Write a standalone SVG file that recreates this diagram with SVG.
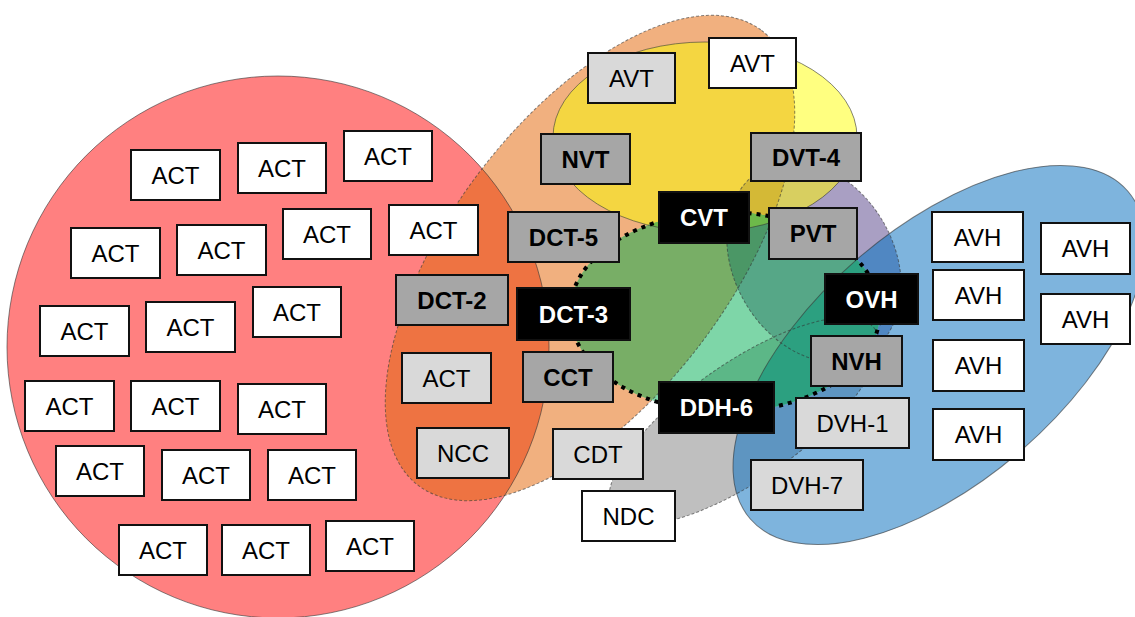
<svg xmlns="http://www.w3.org/2000/svg" xmlns:xlink="http://www.w3.org/1999/xlink" width="1135" height="617" viewBox="0 0 1135 617">
<style>
  .box{stroke:#111;stroke-width:2}
  .w{fill:#fff}
  .l{fill:#d9d9d9}
  .m{fill:#a6a6a6}
  .k{fill:#000}
  text{font-family:"Liberation Sans",Arial,sans-serif;font-size:24px;text-anchor:middle;fill:#000}
  .b{font-weight:bold}
  .wt{fill:#fff}
  .edge{fill:none;stroke:#333;stroke-opacity:0.6;stroke-width:1}
  .dash{stroke-dasharray:3 2}
</style>
<defs>
  <circle id="sRed" cx="278" cy="347" r="271"/>
  <ellipse id="sPeach" cx="590" cy="258" rx="285" ry="140" transform="rotate(-53 590 258)"/>
  <ellipse id="sYellow" cx="705" cy="137" rx="152" ry="95"/>
  <ellipse id="sLav" cx="814" cy="262" rx="106" ry="80" transform="rotate(60 814 262)"/>
  <ellipse id="sBlue" cx="939" cy="355" rx="250" ry="126" transform="rotate(-41 939 355)"/>
  <ellipse id="sGray" cx="744" cy="421" rx="160" ry="58" transform="rotate(-35 744 421)"/>
  <ellipse id="sGreen" cx="725" cy="312" rx="155" ry="100"/>
  <clipPath id="cRed"><circle cx="278" cy="347" r="271"/></clipPath>
  <clipPath id="cPeach"><ellipse cx="590" cy="258" rx="285" ry="140" transform="rotate(-53 590 258)"/></clipPath>
  <clipPath id="cYellow"><ellipse cx="705" cy="137" rx="152" ry="95"/></clipPath>
  <clipPath id="cLav"><ellipse cx="814" cy="262" rx="106" ry="80" transform="rotate(60 814 262)"/></clipPath>
  <clipPath id="cBlue"><ellipse cx="939" cy="355" rx="250" ry="126" transform="rotate(-41 939 355)"/></clipPath>
  <clipPath id="cGray"><ellipse cx="744" cy="421" rx="160" ry="58" transform="rotate(-35 744 421)"/></clipPath>
</defs>

<!-- set areas and their overlaps -->
<g id="regions">
  <use xlink:href="#sRed" fill="#ff8080"/>
  <use xlink:href="#sPeach" fill="#f1b07f"/>
  <g clip-path="url(#cRed)"><use xlink:href="#sPeach" fill="#ee7342"/></g>
  <use xlink:href="#sGray" fill="#bfbfbf"/>
  <use xlink:href="#sYellow" fill="#ffff80"/>
  <g clip-path="url(#cPeach)"><use xlink:href="#sYellow" fill="#f4d641"/></g>
  <use xlink:href="#sLav" fill="#a99fc3"/>
  <g clip-path="url(#cYellow)"><use xlink:href="#sLav" fill="#d8cf60"/></g>
  <g clip-path="url(#cYellow)"><g clip-path="url(#cPeach)"><use xlink:href="#sLav" fill="#d4b936"/></g></g>
  <use xlink:href="#sBlue" fill="#7eb4dd"/>
  <g clip-path="url(#cGray)"><use xlink:href="#sBlue" fill="#5e95c1"/></g>
  <g clip-path="url(#cLav)"><use xlink:href="#sBlue" fill="#5087c2"/></g>
  <use xlink:href="#sGreen" fill="#7ed6a8"/>
  <g clip-path="url(#cGray)"><use xlink:href="#sGreen" fill="#5cb787"/></g>
  <g clip-path="url(#cPeach)"><use xlink:href="#sGreen" fill="#78ae66"/></g>
  <g clip-path="url(#cLav)"><use xlink:href="#sGreen" fill="#56a787"/></g>
  <g clip-path="url(#cLav)"><g clip-path="url(#cPeach)"><use xlink:href="#sGreen" fill="#4b9766"/></g></g>
  <g clip-path="url(#cYellow)"><use xlink:href="#sGreen" fill="#6db94a"/></g>
  <g clip-path="url(#cBlue)"><use xlink:href="#sGreen" fill="#2ca080"/></g>
</g>

<!-- set outlines -->
<g id="outlines">
  <use xlink:href="#sRed" class="edge"/>
  <use xlink:href="#sPeach" class="edge dash"/>
  <use xlink:href="#sYellow" class="edge"/>
  <use xlink:href="#sLav" class="edge dash"/>
  <use xlink:href="#sGray" class="edge dash"/>
  <use xlink:href="#sBlue" class="edge"/>
  <ellipse cx="725" cy="312" rx="155" ry="100" fill="none" stroke="#000" stroke-width="4" stroke-dasharray="4 5"/>
</g>

<!-- ACT members -->
<g id="act-1"><rect class="box w" x="131" y="150" width="89" height="50"/><text x="175.5" y="183.5">ACT</text></g>
<g id="act-2"><rect class="box w" x="238" y="143" width="88" height="50"/><text x="282" y="176.5">ACT</text></g>
<g id="act-3"><rect class="box w" x="344" y="131" width="88" height="50"/><text x="388" y="164.5">ACT</text></g>
<g id="act-4"><rect class="box w" x="71" y="228" width="89" height="50"/><text x="115.5" y="261.5">ACT</text></g>
<g id="act-5"><rect class="box w" x="177" y="225" width="89" height="50"/><text x="221.5" y="258.5">ACT</text></g>
<g id="act-6"><rect class="box w" x="283" y="209" width="88" height="50"/><text x="327" y="242.5">ACT</text></g>
<g id="act-7"><rect class="box w" x="389" y="205" width="89" height="50"/><text x="433.5" y="238.5">ACT</text></g>
<g id="act-8"><rect class="box w" x="40" y="306" width="89" height="50"/><text x="84.5" y="339.5">ACT</text></g>
<g id="act-9"><rect class="box w" x="146" y="302" width="89" height="50"/><text x="190.5" y="335.5">ACT</text></g>
<g id="act-10"><rect class="box w" x="253" y="287" width="88" height="50"/><text x="297" y="320.5">ACT</text></g>
<g id="act-11"><rect class="box w" x="25" y="381" width="89" height="50"/><text x="69.5" y="414.5">ACT</text></g>
<g id="act-12"><rect class="box w" x="131" y="381" width="89" height="50"/><text x="175.5" y="414.5">ACT</text></g>
<g id="act-13"><rect class="box w" x="238" y="384" width="88" height="50"/><text x="282" y="417.5">ACT</text></g>
<g id="act-14"><rect class="box w" x="56" y="446" width="88" height="50"/><text x="100" y="479.5">ACT</text></g>
<g id="act-15"><rect class="box w" x="162" y="450" width="88" height="50"/><text x="206" y="483.5">ACT</text></g>
<g id="act-16"><rect class="box w" x="268" y="450" width="88" height="50"/><text x="312" y="483.5">ACT</text></g>
<g id="act-17"><rect class="box w" x="119" y="525" width="88" height="50"/><text x="163" y="558.5">ACT</text></g>
<g id="act-18"><rect class="box w" x="222" y="525" width="88" height="50"/><text x="266" y="558.5">ACT</text></g>
<g id="act-19"><rect class="box w" x="326" y="521" width="88" height="50"/><text x="370" y="554.5">ACT</text></g>
<g id="act-20"><rect class="box l" x="402" y="353" width="89" height="50"/><text x="446.5" y="386.5">ACT</text></g>

<!-- overlap members -->
<g id="dct-2"><rect class="box m" x="396" y="275" width="112" height="50"/><text class="b" x="452" y="308.5">DCT-2</text></g>
<g id="ncc"><rect class="box l" x="417" y="428" width="92" height="50"/><text x="463" y="461.5">NCC</text></g>
<g id="dct-5"><rect class="box m" x="508" y="212" width="111" height="50"/><text class="b" x="563.5" y="245.5">DCT-5</text></g>
<g id="dct-3"><rect class="box k" x="517" y="288" width="113" height="52"/><text class="b wt" x="573.5" y="322.5">DCT-3</text></g>
<g id="cct"><rect class="box m" x="523" y="352" width="90" height="50"/><text class="b" x="568" y="385.5">CCT</text></g>
<g id="cdt"><rect class="box l" x="553" y="429" width="90" height="50"/><text x="598" y="462.5">CDT</text></g>
<g id="ndc"><rect class="box w" x="582" y="491" width="93" height="50"/><text x="628.5" y="524.5">NDC</text></g>

<!-- VT members -->
<g id="avt-1"><rect class="box l" x="588" y="53" width="87" height="50"/><text x="631.5" y="86.5">AVT</text></g>
<g id="avt-2"><rect class="box w" x="709" y="38" width="87" height="50"/><text x="752.5" y="71.5">AVT</text></g>
<g id="nvt"><rect class="box m" x="541" y="134" width="89" height="50"/><text class="b" x="585.5" y="167.5">NVT</text></g>
<g id="dvt-4"><rect class="box m" x="751" y="133" width="110" height="48"/><text class="b" x="806" y="165.5">DVT-4</text></g>
<g id="cvt"><rect class="box k" x="659" y="192" width="90" height="51"/><text class="b wt" x="704" y="226">CVT</text></g>
<g id="pvt"><rect class="box m" x="769" y="208" width="88" height="51"/><text class="b" x="813" y="242">PVT</text></g>

<!-- VH members -->
<g id="ovh"><rect class="box k" x="825" y="274" width="93" height="50"/><text class="b wt" x="871.5" y="307.5">OVH</text></g>
<g id="nvh"><rect class="box m" x="811" y="336" width="91" height="50"/><text class="b" x="856.5" y="369.5">NVH</text></g>
<g id="ddh-6"><rect class="box k" x="659" y="382" width="115" height="51"/><text class="b wt" x="716.5" y="416">DDH-6</text></g>
<g id="dvh-1"><rect class="box l" x="796" y="398" width="113" height="50"/><text x="852.5" y="431.5">DVH-1</text></g>
<g id="dvh-7"><rect class="box l" x="751" y="460" width="112" height="50"/><text x="807" y="493.5">DVH-7</text></g>
<g id="avh-1"><rect class="box w" x="932" y="212" width="91" height="50"/><text x="977.5" y="245.5">AVH</text></g>
<g id="avh-2"><rect class="box w" x="1041" y="223" width="89" height="51"/><text x="1085.5" y="257">AVH</text></g>
<g id="avh-3"><rect class="box w" x="933" y="270" width="91" height="50"/><text x="978.5" y="303.5">AVH</text></g>
<g id="avh-4"><rect class="box w" x="1041" y="294" width="89" height="50"/><text x="1085.5" y="327.5">AVH</text></g>
<g id="avh-5"><rect class="box w" x="933" y="340" width="91" height="51"/><text x="978.5" y="374">AVH</text></g>
<g id="avh-6"><rect class="box w" x="933" y="409" width="91" height="51"/><text x="978.5" y="443">AVH</text></g>
</svg>
